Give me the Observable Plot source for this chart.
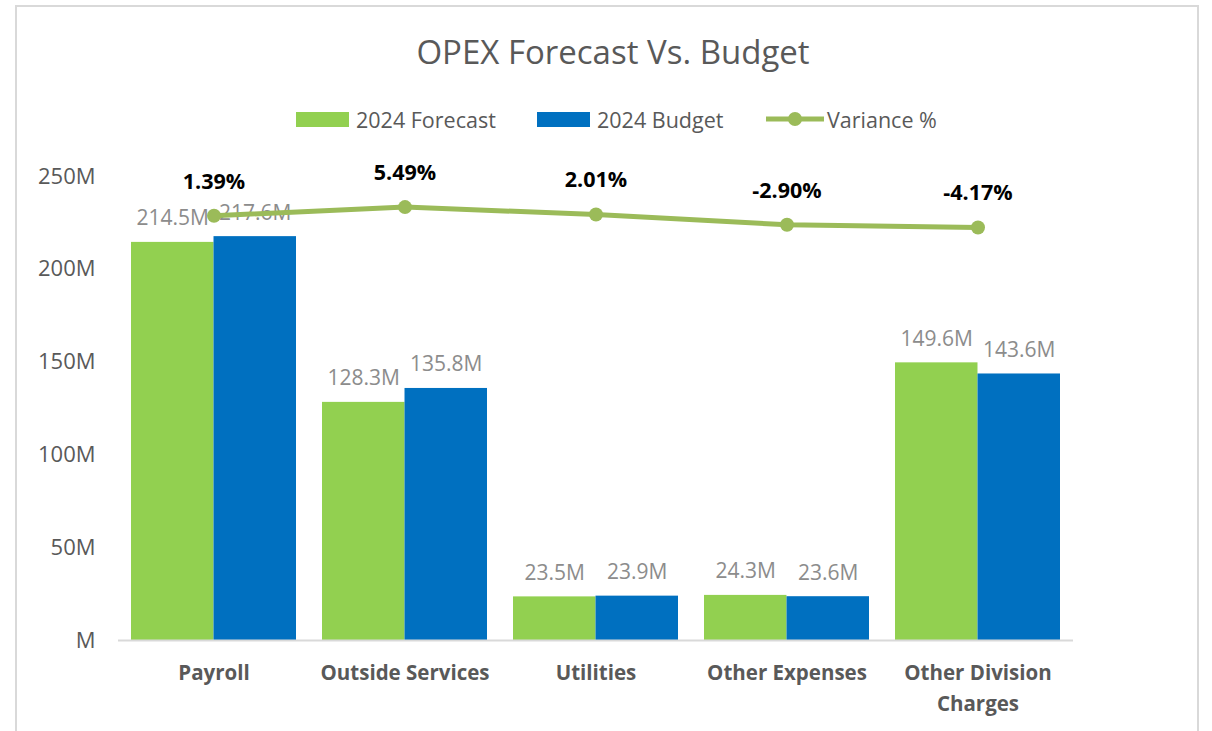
<!DOCTYPE html>
<html><head><meta charset="utf-8">
<script src="https://cdn.jsdelivr.net/npm/d3@7"></script>
<script src="https://cdn.jsdelivr.net/npm/@observablehq/plot@0.6"></script>
<style>
body{margin:0;background:#fff;font-family:"Open Sans",sans-serif;width:1212px;height:731px;overflow:hidden;position:relative;}
#frame{position:absolute;left:15px;top:5px;width:1184px;height:740px;border:2px solid #d9d9d9;box-sizing:border-box;}
#title{position:absolute;left:0;width:1226px;top:32px;text-align:center;font-size:33px;color:#595959;line-height:40px;}
.leg{position:absolute;top:107px;height:24px;display:flex;align-items:center;font-size:21.5px;color:#595959;white-space:nowrap;}
.sw{width:53px;height:15px;margin-right:7px;}
#chart{position:absolute;left:0;top:150px;}
</style></head>
<body>
<div id="frame"></div>
<div id="title">OPEX Forecast Vs. Budget</div>
<div id="legend"></div>
<div id="chart"></div>
<script>
const categories = ["Payroll","Outside Services","Utilities","Other Expenses","Other Division Charges"];
const categoryLabels = ["Payroll","Outside Services","Utilities","Other Expenses","Other Division\nCharges"];
const forecast = [214.5,128.3,23.5,24.3,149.6];
const budget = [217.6,135.8,23.9,23.6,143.6];
const variance = [1.39,5.49,2.01,-2.90,-4.17];
const yTicks = [0,50,100,150,200,250];
const yDomain = [0,250];
const secondaryDomain = [-200,20];
const seriesNames = ["2024 Forecast","2024 Budget","Variance %"];
const colors = {forecast:"#92d050", budget:"#0070c0", variance:"#9bbb59"};

const rows = categories.map((c,i)=>({category:c, label:categoryLabels[i], forecast:forecast[i], budget:budget[i], variance:variance[i]}));
const sec = v => (v - secondaryDomain[0])/(secondaryDomain[1]-secondaryDomain[0])*(yDomain[1]-yDomain[0]) + yDomain[0];

const W = 1212, H = 581, mL = 118, mR = 139, mT = 26, mB = 91;
const pIn = 0.136, pOut = 0.068;
const step = (W-mL-mR)/(categories.length - pIn + 2*pOut);
const bw = step*(1-pIn);

// legend
const legend = document.getElementById("legend");
const legItems = [
 {left:296, html:`<div class="sw" style="background:${colors.forecast}"></div>${seriesNames[0]}`},
 {left:537, html:`<div class="sw" style="background:${colors.budget}"></div>${seriesNames[1]}`},
 {left:766, html:`<svg width="58" height="16" style="margin-right:3px"><line x1="0" y1="8" x2="58" y2="8" stroke="${colors.variance}" stroke-width="5"/><circle cx="29" cy="8" r="7" fill="${colors.variance}"/></svg>${seriesNames[2]}`}
];
legItems.forEach(it=>{const d=document.createElement("div");d.className="leg";d.style.left=it.left+"px";d.innerHTML=it.html;legend.appendChild(d);});

const font = "'Open Sans',sans-serif";
const plot = Plot.plot({
  width: W, height: H,
  marginLeft: mL, marginRight: mR, marginTop: mT, marginBottom: mB,
  style: {fontFamily: font, background:"transparent", overflow:"visible"},
  x: {domain: categories, paddingInner: pIn, paddingOuter: pOut, axis: null},
  y: {domain: yDomain, axis: null},
  marks: [
    Plot.barY(rows, {x:"category", y:"forecast", fill:colors.forecast, insetRight: bw/2}),
    Plot.barY(rows, {x:"category", y:"budget", fill:colors.budget, insetLeft: bw/2}),
    Plot.ruleY([0], {stroke:"#d9d9d9", strokeWidth:2}),
    Plot.axisY({ticks: yTicks, tickSize:0, tickPadding:23, label:null, tickFormat: d => d===0 ? "M" : d+"M", fontSize:22, fill:"#595959", color:"#595959"}),
    Plot.axisX({tickSize:0, tickPadding:17, label:null, tickFormat: d => categoryLabels[categories.indexOf(d)], fontSize:20.5, fontWeight:"bold", fill:"#595959", lineHeight:1.52}),
    Plot.text(rows, {x:"category", y:"forecast", text: d=>d.forecast.toFixed(1)+"M", dx:-bw/4, dy:-17, lineAnchor:"bottom", fontSize:21, fill:"#8c8c8c"}),
    Plot.text(rows, {x:"category", y:"budget", text: d=>d.budget.toFixed(1)+"M", dx:bw/4, dy:-17, lineAnchor:"bottom", fontSize:21, fill:"#8c8c8c"}),
    Plot.line(rows, {x:"category", y: d=>sec(d.variance), stroke:colors.variance, strokeWidth:5}),
    Plot.dot(rows, {x:"category", y: d=>sec(d.variance), r:7, fill:colors.variance}),
    Plot.text(rows, {x:"category", y: d=>sec(d.variance), text: d=>d.variance.toFixed(2)+"%", dy:-34, fontSize:21.5, fontWeight:"bold", fill:"#000"})
  ]
});
document.getElementById("chart").appendChild(plot);
</script>
</body></html>
